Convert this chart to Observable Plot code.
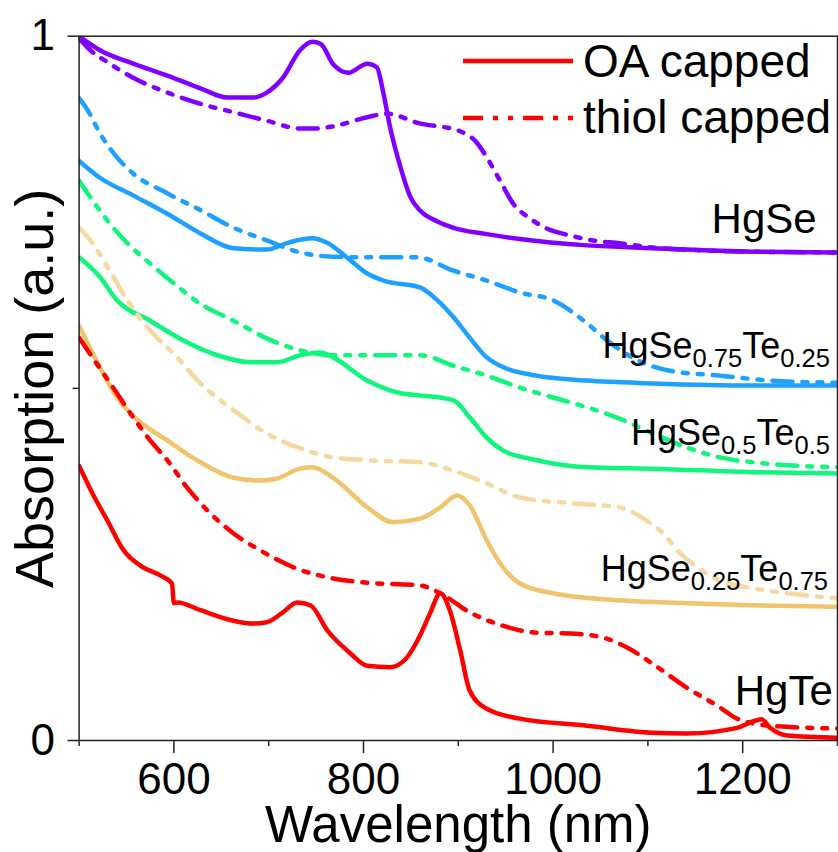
<!DOCTYPE html>
<html><head><meta charset="utf-8">
<script src="https://cdn.jsdelivr.net/npm/d3@7"></script>
<script src="https://cdn.jsdelivr.net/npm/@observablehq/plot@0.6"></script>
<style>
body{margin:0;background:#fff}
#chart svg{font-family:"Liberation Sans",Arial,sans-serif;overflow:visible}
</style>
</head><body><div id="chart"></div>
<script>
// ---- data: [wavelength (nm), absorption (a.u.)] ----
const hgseOA = [[500,1.0],[522,0.980],[557,0.961],[593,0.944],[628,0.926],[656,0.913],[684,0.913],[698,0.920],[715,0.941],[733,0.980],[746,0.992],[755,0.989],[768,0.960],[784,0.948],[804,0.961],[814,0.956],[821,0.919],[828,0.871],[839,0.814],[849,0.773],[860,0.752],[878,0.737],[895,0.728],[930,0.719],[965,0.712],[1036,0.703],[1105,0.699],[1211,0.694],[1300,0.693]];
const hgseThiol = [[500,0.997],[512,0.980],[530,0.963],[557,0.941],[593,0.920],[628,0.904],[663,0.892],[698,0.880],[733,0.869],[751,0.869],[768,0.872],[804,0.885],[825,0.890],[857,0.877],[902,0.865],[920,0.848],[930,0.828],[944,0.795],[958,0.762],[976,0.741],[993,0.727],[1018,0.717],[1042,0.710],[1070,0.706],[1105,0.700],[1211,0.694],[1300,0.693]];
const hgse75OA = [[500,0.823],[522,0.799],[557,0.774],[593,0.748],[628,0.720],[663,0.699],[698,0.697],[721,0.707],[746,0.713],[761,0.707],[786,0.682],[804,0.663],[821,0.653],[860,0.643],[878,0.625],[895,0.601],[912,0.572],[930,0.544],[951,0.528],[983,0.518],[1036,0.511],[1105,0.507],[1211,0.504],[1300,0.504]];
const hgse75Thiol = [[500,0.912],[509,0.895],[522,0.862],[540,0.828],[557,0.805],[593,0.777],[628,0.753],[663,0.728],[698,0.710],[733,0.693],[768,0.687],[804,0.686],[857,0.686],[895,0.667],[930,0.653],[965,0.636],[1000,0.625],[1036,0.592],[1057,0.568],[1089,0.540],[1123,0.525],[1176,0.518],[1229,0.511],[1300,0.508]];
const hgse50OA = [[500,0.686],[522,0.658],[540,0.625],[575,0.596],[610,0.568],[646,0.547],[681,0.537],[709,0.537],[733,0.547],[755,0.551],[768,0.544],[804,0.511],[839,0.493],[860,0.490],[895,0.483],[912,0.459],[930,0.430],[947,0.412],[983,0.398],[1036,0.388],[1105,0.386],[1211,0.381],[1300,0.379]];
const hgse50Thiol = [[500,0.795],[512,0.771],[530,0.738],[551,0.706],[575,0.677],[600,0.649],[628,0.620],[663,0.596],[698,0.571],[733,0.554],[768,0.547],[860,0.547],[895,0.532],[930,0.518],[965,0.501],[1000,0.487],[1036,0.473],[1070,0.457],[1105,0.436],[1141,0.416],[1176,0.402],[1211,0.395],[1300,0.388]];
const hgse25OA = [[500,0.589],[522,0.530],[540,0.487],[557,0.461],[593,0.426],[628,0.395],[663,0.373],[691,0.369],[709,0.372],[733,0.386],[746,0.388],[768,0.373],[804,0.331],[831,0.310],[860,0.315],[881,0.331],[899,0.348],[912,0.334],[930,0.284],[947,0.246],[965,0.223],[1000,0.209],[1070,0.199],[1141,0.195],[1211,0.192],[1300,0.190]];
const hgse25Thiol = [[500,0.728],[512,0.710],[530,0.672],[551,0.625],[575,0.582],[600,0.549],[628,0.507],[663,0.469],[698,0.436],[733,0.415],[768,0.402],[804,0.398],[860,0.395],[895,0.383],[930,0.365],[965,0.345],[1018,0.337],[1070,0.331],[1099,0.312],[1116,0.294],[1134,0.266],[1152,0.246],[1176,0.227],[1211,0.216],[1247,0.209],[1300,0.202]];
const hgteOA = [[500,0.390],[514,0.351],[530,0.312],[547,0.270],[565,0.248],[586,0.234],[598,0.223],[600,0.195],[604,0.196],[628,0.185],[663,0.170],[684,0.166],[698,0.168],[715,0.182],[730,0.196],[744,0.192],[762,0.156],[786,0.124],[804,0.106],[828,0.104],[846,0.118],[860,0.150],[870,0.180],[881,0.209],[891,0.185],[902,0.128],[912,0.071],[930,0.045],[965,0.031],[1036,0.021],[1105,0.011],[1141,0.010],[1194,0.018],[1213,0.028],[1220,0.030],[1229,0.018],[1247,0.007],[1300,0.004]];
const hgteThiol = [[500,0.572],[514,0.544],[533,0.507],[557,0.459],[575,0.426],[593,0.398],[614,0.359],[635,0.327],[663,0.294],[691,0.270],[726,0.246],[768,0.230],[804,0.224],[860,0.220],[881,0.209],[912,0.182],[947,0.163],[983,0.153],[1018,0.152],[1053,0.146],[1078,0.132],[1105,0.109],[1141,0.075],[1176,0.047],[1194,0.031],[1229,0.021],[1300,0.017]];

// curve labels
const labelNames = ["HgSe", "HgSe0.75Te0.25", "HgSe0.5Te0.5", "HgSe0.25Te0.75", "HgTe"];
const labelX = [1278, 1292, 1292, 1290, 1295];
const labelY = [0.720, 0.543, 0.419, 0.227, 0.050];

const xMajorTicks = [600, 800, 1000, 1200];
const xMinorTicks = [500, 700, 900, 1100, 1300];
const yMajorTicks = [0, 1];
const yMinorTicks = [0.5];
const legendLabels = ["OA capped", "thiol capped"];

// styles
const DASH = "20,10,5,10,5,10";
const series = [
  {data: hgseOA, color: "#8000ff", dash: null},
  {data: hgseThiol, color: "#8000ff", dash: DASH},
  {data: hgse75OA, color: "#1ea0ff", dash: null},
  {data: hgse75Thiol, color: "#1ea0ff", dash: DASH},
  {data: hgse50OA, color: "#10f57c", dash: null},
  {data: hgse50Thiol, color: "#10f57c", dash: DASH},
  {data: hgse25OA, color: "#efc46c", dash: null},
  {data: hgse25Thiol, color: "#f5d9a0", dash: DASH},
  {data: hgteOA, color: "#ff0000", dash: null},
  {data: hgteThiol, color: "#ff0000", dash: DASH}
];

const labels = labelNames.map((t, i) => ({t, x: labelX[i], y: labelY[i]}));
const AX = "#222";

const lineMarks = series.map(s => Plot.line(s.data, {
  x: d => d[0], y: d => d[1], stroke: s.color, strokeWidth: 4.5,
  strokeDasharray: s.dash || undefined, curve: "monotone-x", clip: true
}));

const chart = Plot.plot({
  width: 838, height: 852,
  marginLeft: 78.6, marginRight: 1, marginTop: 35.7, marginBottom: 112,
  x: {domain: [500, 1300]},
  y: {domain: [0, 1]},
  style: {fontFamily: '"Liberation Sans", Arial, sans-serif', background: "#fff", color: "#000"},
  marks: [
    ...lineMarks,
    Plot.frame({stroke: AX, strokeWidth: 1.5}),
    Plot.axisX({ticks: xMajorTicks, tickSize: 13, tickPadding: 9, fontSize: 44, tickFormat: d => String(d), label: null, stroke: AX, strokeWidth: 1.5}),
    Plot.axisX({ticks: xMinorTicks, tickSize: 6, tickFormat: () => "", label: null, stroke: AX, strokeWidth: 1.5}),
    Plot.axisY({ticks: yMajorTicks, tickSize: 11, tickPadding: 13, fontSize: 44, tickFormat: d => String(d), label: null, stroke: AX, strokeWidth: 1.5}),
    Plot.axisY({ticks: yMinorTicks, tickSize: 6, tickFormat: () => "", label: null, stroke: AX, strokeWidth: 1.5}),
    Plot.text(["Wavelength (nm)"], {text: d => d, frameAnchor: "bottom", textAnchor: "middle", lineAnchor: "bottom", dy: 101, fontSize: 51}),
    Plot.text(["Absorption (a.u.)"], {text: d => d, frameAnchor: "left", textAnchor: "middle", rotate: -90, lineAnchor: "bottom", dx: -26, fontSize: 54}),
    Plot.text(labels.filter(d => d.t === "HgSe" || d.t === "HgTe"), {x: "x", y: "y", text: "t", textAnchor: "end", lineAnchor: "bottom", fontSize: 42}),
    Plot.text(labels.filter(d => d.t !== "HgSe" && d.t !== "HgTe"), {x: "x", y: "y", text: "t", textAnchor: "end", lineAnchor: "bottom", fontSize: 36})
  ]
});

// subscripts
d3.select(chart).selectAll("text").each(function () {
  const m = this.textContent.match(/^HgSe(0\.\d+)Te(0\.\d+)$/);
  if (!m) return;
  const s = d3.select(this);
  s.text("");
  s.append("tspan").text("HgSe");
  s.append("tspan").attr("font-size", 25.5).attr("dy", 9).text(m[1]);
  s.append("tspan").attr("dy", -9).text("Te");
  s.append("tspan").attr("font-size", 25.5).attr("dy", 9).text(m[2]);
});

// legend
const lg = d3.select(chart).append("g").attr("font-size", 46).attr("fill", "#000").attr("text-anchor", "start");
lg.append("line").attr("x1", 463).attr("x2", 573).attr("y1", 61).attr("y2", 61)
  .attr("stroke", "#ff0000").attr("stroke-width", 4.5);
lg.append("line").attr("x1", 463).attr("x2", 573).attr("y1", 118).attr("y2", 118)
  .attr("stroke", "#ff0000").attr("stroke-width", 4.5).attr("stroke-dasharray", DASH);
lg.append("text").attr("x", 583).attr("y", 77).attr("text-anchor", "start").text(legendLabels[0]);
lg.append("text").attr("x", 583).attr("y", 133).attr("text-anchor", "start").text(legendLabels[1]);

document.getElementById("chart").appendChild(chart);
</script>
</body></html>
